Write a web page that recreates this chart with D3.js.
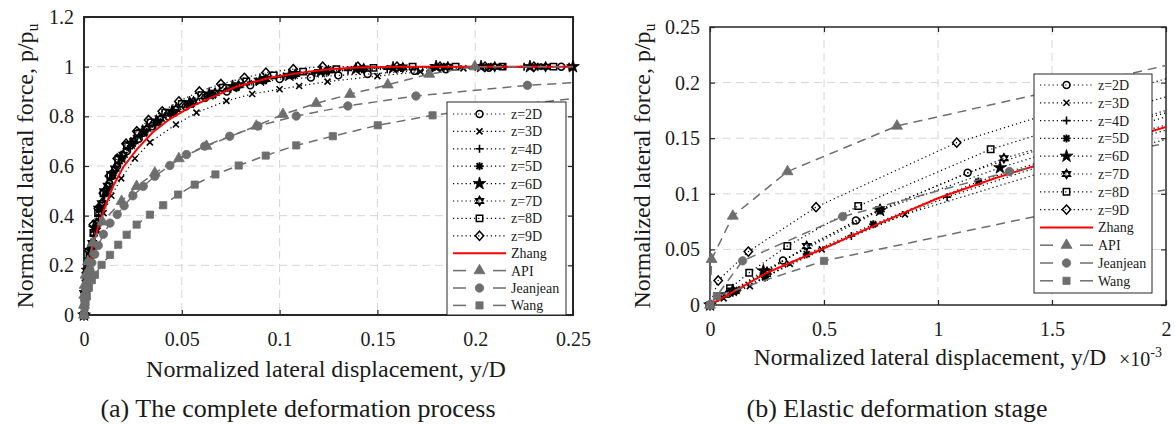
<!DOCTYPE html>
<html><head><meta charset="utf-8">
<script src="https://cdn.jsdelivr.net/npm/d3@7"></script>
<style>
body{margin:0;background:#fff}
svg{display:block}
text{font-family:"Liberation Serif","Times New Roman",serif}
</style>
</head><body>
<svg id="chart" width="1175" height="424"></svg>
<script>
// ---------------- categories / tick labels ----------------
const legendLabels = ["z=2D","z=3D","z=4D","z=5D","z=6D","z=7D","z=8D","z=9D","Zhang","API","Jeanjean","Wang"];
const aXTicks = [0,0.05,0.1,0.15,0.2,0.25];
const aXTickLabels = ["0","0.05","0.1","0.15","0.2","0.25"];
const aYTicks = [0,0.2,0.4,0.6,0.8,1,1.2];
const aYTickLabels = ["0","0.2","0.4","0.6","0.8","1","1.2"];
const bXTicks = [0,0.5,1,1.5,2];
const bXTickLabels = ["0","0.5","1","1.5","2"];
const bYTicks = [0,0.05,0.1,0.15,0.2,0.25];
const bYTickLabels = ["0","0.05","0.1","0.15","0.2","0.25"];

// ---------------- panel (a): complete deformation ----------------
const a_z2D_x = [0,0.0008,0.002,0.004,0.0065,0.0095,0.013,0.017,0.022,0.028,0.035,0.043,0.052,0.062,0.073,0.085,0.1,0.116,0.13,0.145,0.169,0.185,0.207,0.244];
const a_z2D_y = [0,0.10,0.18,0.28,0.37,0.45,0.53,0.60,0.66,0.71,0.76,0.80,0.84,0.875,0.90,0.925,0.95,0.956,0.965,0.97,0.983,0.99,0.996,1.0];
const a_z3D_x = [0,0.001,0.0025,0.0045,0.007,0.01,0.014,0.019,0.026,0.0337,0.047,0.0575,0.0728,0.086,0.1,0.11,0.1245,0.15,0.172,0.194,0.214,0.235];
const a_z3D_y = [0,0.10,0.18,0.26,0.34,0.41,0.48,0.55,0.63,0.695,0.767,0.815,0.862,0.89,0.909,0.922,0.94,0.962,0.98,0.993,1.0,1.0];
const a_z4D_x = [0,0.0006,0.0015,0.003,0.005,0.0075,0.0105,0.014,0.018,0.023,0.029,0.036,0.044,0.053,0.063,0.075,0.088,0.102,0.118,0.135,0.155,0.178,0.2,0.225,0.248];
const a_z4D_y = [0,0.07,0.14,0.23,0.32,0.40,0.48,0.55,0.61,0.67,0.72,0.765,0.805,0.845,0.88,0.91,0.94,0.96,0.975,0.985,0.99,0.995,1.0,1.0,1.0];
const a_z5D_x = [0,0.0009,0.0022,0.0038,0.006,0.0085,0.0115,0.015,0.0195,0.025,0.031,0.038,0.046,0.055,0.066,0.078,0.092,0.107,0.124,0.142,0.162,0.184,0.208,0.232];
const a_z5D_y = [0,0.10,0.19,0.27,0.35,0.43,0.50,0.57,0.63,0.69,0.735,0.775,0.815,0.85,0.885,0.915,0.945,0.965,0.98,0.99,0.995,1.0,1.0,1.0];
const a_z6D_x = [0,0.0007,0.0018,0.0033,0.0055,0.008,0.011,0.0145,0.019,0.024,0.03,0.037,0.045,0.054,0.064,0.076,0.09,0.105,0.121,0.139,0.158,0.18,0.203,0.228,0.25];
const a_z6D_y = [0,0.09,0.18,0.26,0.35,0.43,0.50,0.57,0.635,0.69,0.74,0.78,0.82,0.855,0.89,0.92,0.945,0.965,0.98,0.99,0.995,1.0,1.0,1.0,1.0];
const a_z7D_x = [0,0.0012,0.0026,0.0042,0.0065,0.009,0.012,0.0158,0.02,0.0255,0.032,0.039,0.047,0.056,0.067,0.079,0.093,0.108,0.125,0.143,0.163,0.186,0.21,0.236];
const a_z7D_y = [0,0.13,0.22,0.29,0.37,0.45,0.52,0.59,0.645,0.70,0.75,0.79,0.83,0.86,0.895,0.925,0.95,0.97,0.985,0.993,0.997,1.0,1.0,1.0];
const a_z8D_x = [0,0.0004,0.0013,0.0028,0.0048,0.0072,0.01,0.0135,0.0175,0.022,0.0275,0.034,0.0415,0.05,0.06,0.071,0.083,0.097,0.112,0.129,0.148,0.168,0.19,0.214,0.24];
const a_z8D_y = [0,0.06,0.14,0.24,0.33,0.41,0.49,0.56,0.625,0.68,0.73,0.775,0.815,0.85,0.885,0.915,0.94,0.965,0.98,0.99,0.995,1.0,1.0,1.0,1.0];
const a_z9D_x = [0,0.0005,0.0012,0.0025,0.0048,0.0073,0.0099,0.013,0.017,0.0215,0.027,0.033,0.04,0.0485,0.059,0.07,0.082,0.093,0.107,0.122,0.14,0.16,0.182,0.205,0.23];
const a_z9D_y = [0,0.09,0.17,0.26,0.364,0.43,0.49,0.56,0.63,0.69,0.74,0.785,0.82,0.86,0.90,0.93,0.955,0.976,0.99,1.0,1.0,1.0,1.0,1.0,1.0];
const a_zhang_x = [0,0.0005,0.001,0.002,0.004,0.0073,0.01,0.015,0.02,0.027,0.035,0.044,0.055,0.065,0.078,0.095,0.11,0.125,0.14,0.16,0.25];
const a_zhang_y = [0,0.05,0.095,0.16,0.26,0.357,0.42,0.52,0.595,0.667,0.735,0.79,0.84,0.875,0.92,0.955,0.975,0.99,0.997,1.0,1.0];
const a_api_x = [0,0.00001,0.0001,0.00034,0.00082,0.002,0.0045,0.0095,0.0192,0.0269,0.0362,0.0485,0.0626,0.0881,0.1017,0.1187,0.136,0.1553,0.1765,0.1998,0.26];
const a_api_y = [0,0.04,0.08,0.12,0.161,0.215,0.29,0.375,0.458,0.518,0.572,0.63,0.68,0.761,0.808,0.852,0.889,0.927,0.97,1.0,1.0];
const a_jj_x = [0,0.0001,0.0003,0.0006,0.001,0.0015,0.0022,0.003,0.004,0.0055,0.0073,0.0099,0.0133,0.017,0.0205,0.025,0.0303,0.0362,0.0439,0.0524,0.0617,0.0745,0.0889,0.1085,0.1349,0.1697,0.2267,0.26];
const a_jj_y = [0,0.035,0.06,0.08,0.105,0.13,0.155,0.18,0.21,0.245,0.28,0.325,0.37,0.405,0.44,0.48,0.518,0.559,0.602,0.646,0.68,0.72,0.761,0.801,0.842,0.882,0.925,0.94];
const a_wang_x = [0,0.0003,0.0008,0.0015,0.0025,0.004,0.0056,0.009,0.0133,0.0175,0.0218,0.0269,0.0337,0.0405,0.0481,0.0566,0.0672,0.0791,0.0929,0.1085,0.1272,0.1502,0.1782,0.2135,0.26];
const a_wang_y = [0,0.03,0.05,0.075,0.11,0.14,0.162,0.202,0.242,0.283,0.323,0.364,0.404,0.442,0.485,0.525,0.566,0.602,0.642,0.683,0.72,0.764,0.804,0.84,0.88];

// ---------------- panel (b): elastic stage (x in 1e-3) ----------------
const b_z2D_x = [0,0.08,0.32,0.64,1.13,1.75,2.5];
const b_z2D_y = [0,0.010,0.040,0.076,0.119,0.160,0.205];
const b_z3D_x = [0,0.06,0.175,0.35,0.49,0.855,1.6,2.5];
const b_z3D_y = [0,0.006,0.017,0.037,0.050,0.0815,0.128,0.175];
const b_z4D_x = [0,0.1,0.25,0.62,1.04,1.6,2.5];
const b_z4D_y = [0,0.011,0.026,0.062,0.097,0.135,0.185];
const b_z5D_x = [0,0.117,0.241,0.424,0.716,1.177,1.7,2.5];
const b_z5D_y = [0,0.0128,0.0248,0.0457,0.0726,0.111,0.145,0.19];
const b_z6D_x = [0,0.1,0.234,0.746,1.272,1.8,2.5];
const b_z6D_y = [0,0.013,0.0307,0.085,0.1234,0.157,0.2];
const b_z7D_x = [0,0.1,0.25,0.424,0.746,1.289,1.8,2.5];
const b_z7D_y = [0,0.013,0.03,0.053,0.086,0.132,0.162,0.2];
const b_z8D_x = [0,0.044,0.088,0.172,0.339,0.65,1.231,1.8,2.5];
const b_z8D_y = [0,0.008,0.015,0.029,0.053,0.089,0.14,0.176,0.215];
const b_z9D_x = [0,0.036,0.168,0.465,1.082,1.8,2.5];
const b_z9D_y = [0,0.022,0.048,0.088,0.146,0.192,0.232];
const b_zhang_x = [0,0.25,0.5,0.75,1.0,1.25,1.5,1.75,2.0];
const b_zhang_y = [0,0.029,0.051,0.074,0.096,0.114,0.13,0.145,0.16];
const b_api_x = [0,0.007,0.1,0.34,0.82,2.6];
const b_api_y = [0,0.041,0.08,0.12,0.161,0.243];
const b_jj_x = [0,0.143,0.582,1.313,2.4];
const b_jj_y = [0,0.0397,0.0795,0.12,0.16];
const b_wang_x = [0,0.03,0.5,1.9,2.6];
const b_wang_y = [0,0.008,0.0397,0.1,0.125];

// ---------------- build tables ----------------
const zip = (xs, ys) => xs.map((x, i) => ({x, y: ys[i]}));
const panelASeries = [
  zip(a_z2D_x,a_z2D_y), zip(a_z3D_x,a_z3D_y), zip(a_z4D_x,a_z4D_y), zip(a_z5D_x,a_z5D_y),
  zip(a_z6D_x,a_z6D_y), zip(a_z7D_x,a_z7D_y), zip(a_z8D_x,a_z8D_y), zip(a_z9D_x,a_z9D_y),
  zip(a_zhang_x,a_zhang_y), zip(a_api_x,a_api_y), zip(a_jj_x,a_jj_y), zip(a_wang_x,a_wang_y)];
const panelBSeries = [
  zip(b_z2D_x,b_z2D_y), zip(b_z3D_x,b_z3D_y), zip(b_z4D_x,b_z4D_y), zip(b_z5D_x,b_z5D_y),
  zip(b_z6D_x,b_z6D_y), zip(b_z7D_x,b_z7D_y), zip(b_z8D_x,b_z8D_y), zip(b_z9D_x,b_z9D_y),
  zip(b_zhang_x,b_zhang_y), zip(b_api_x,b_api_y), zip(b_jj_x,b_jj_y), zip(b_wang_x,b_wang_y)];

// ---------------- styles ----------------
const GRAY = "#6e6e6e", AXC = "#262626";
const seriesStyle = [
  {line:"dot", marker:"circle"}, {line:"dot", marker:"cross"}, {line:"dot", marker:"plus"},
  {line:"dot", marker:"asterisk"}, {line:"dot", marker:"star"}, {line:"dot", marker:"hexagram"},
  {line:"dot", marker:"square"}, {line:"dot", marker:"diamond"},
  {line:"red", marker:null}, {line:"dash", marker:"gtri"}, {line:"dash", marker:"gcirc"}, {line:"dash", marker:"gsq"}];

const markerDefs = {
  circle:   {d: d3.symbol(d3.symbolCircle, 38)(), fill:"none", stroke:"#000", sw:1.5},
  cross:    {d: "M-3,-3L3,3M-3,3L3,-3", fill:"none", stroke:"#000", sw:1.6},
  plus:     {d: "M-4,0H4M0,-4V4", fill:"none", stroke:"#000", sw:1.6},
  asterisk: {d: "M-4,0H4M0,-4V4M-3,-3L3,3M-3,3L3,-3", fill:"none", stroke:"#000", sw:1.9},
  star:     {d: d3.symbol(d3.symbolStar, 50)(), fill:"#000", stroke:"#000", sw:0.8},
  hexagram: {d: "M0,-4.6L4,2.3L-4,2.3ZM0,4.6L4,-2.3L-4,-2.3Z", fill:"none", stroke:"#000", sw:1.4},
  square:   {d: "M-3.2,-3.2H3.2V3.2H-3.2Z", fill:"none", stroke:"#000", sw:1.5},
  diamond:  {d: "M0,-4.6L4.2,0L0,4.6L-4.2,0Z", fill:"none", stroke:"#000", sw:1.5},
  gtri:     {d: d3.symbol(d3.symbolTriangle, 52)(), fill:GRAY, stroke:GRAY, sw:0.8},
  gcirc:    {d: d3.symbol(d3.symbolCircle, 56)(), fill:GRAY, stroke:GRAY, sw:0.8},
  gsq:      {d: "M-3.6,-3.6H3.6V3.6H-3.6Z", fill:GRAY, stroke:GRAY, sw:0.8}
};
function styleLine(sel, kind) {
  if (kind === "dot") sel.attr("stroke","#000").attr("stroke-width",1.2).attr("stroke-dasharray","1.2,3");
  else if (kind === "red") sel.attr("stroke","#ff0000").attr("stroke-width",2);
  else sel.attr("stroke",GRAY).attr("stroke-width",1.5).attr("stroke-dasharray","9,6");
  return sel.attr("fill","none");
}
function addMarker(g, type, cx, cy) {
  const m = markerDefs[type];
  g.append("path").attr("d", m.d).attr("transform", `translate(${cx},${cy})`)
    .attr("fill", m.fill).attr("stroke", m.stroke).attr("stroke-width", m.sw);
}

const svg = d3.select("#chart");
const FONT = '"Liberation Serif","Times New Roman",serif';

function drawPanel(p) {
  const g = svg.append("g");
  const x = d3.scaleLinear().domain(p.xDomain).range([p.left, p.right]);
  const y = d3.scaleLinear().domain(p.yDomain).range([p.bottom, p.top]);

  // grid
  g.append("g").selectAll("line").data(p.xTicks.slice(1, -1)).join("line")
    .attr("x1", d => x(d)).attr("x2", d => x(d)).attr("y1", p.top).attr("y2", p.bottom)
    .attr("stroke", "#d6d6d6").attr("stroke-width", 1).attr("stroke-dasharray", "8,5");
  g.append("g").selectAll("line").data(p.yTicks.slice(1, -1)).join("line")
    .attr("y1", d => y(d)).attr("y2", d => y(d)).attr("x1", p.left).attr("x2", p.right)
    .attr("stroke", "#d6d6d6").attr("stroke-width", 1).attr("stroke-dasharray", "8,5");

  // axes
  const styleAxis = sel => {
    sel.attr("font-family", FONT).attr("font-size", 20);
    sel.select(".domain").remove();
    sel.selectAll(".tick line").attr("stroke", AXC).attr("stroke-width", 1.2);
    sel.selectAll(".tick text").attr("fill", "#1a1a1a");
  };
  g.append("g").attr("transform", `translate(0,${p.bottom})`)
    .call(d3.axisBottom(x).tickValues(p.xTicks).tickFormat((d, i) => p.xTickLabels[i])
      .tickSizeInner(-5).tickSizeOuter(0).tickPadding(17)).call(styleAxis);
  g.append("g").attr("transform", `translate(0,${p.top})`)
    .call(d3.axisTop(x).tickValues(p.xTicks).tickFormat("").tickSizeInner(-5).tickSizeOuter(0)).call(styleAxis);
  g.append("g").attr("transform", `translate(${p.left},0)`)
    .call(d3.axisLeft(y).tickValues(p.yTicks).tickFormat((d, i) => p.yTickLabels[i])
      .tickSizeInner(-5).tickSizeOuter(0).tickPadding(10)).call(styleAxis);
  g.append("g").attr("transform", `translate(${p.right},0)`)
    .call(d3.axisRight(y).tickValues(p.yTicks).tickFormat("").tickSizeInner(-5).tickSizeOuter(0)).call(styleAxis);

  // box
  g.append("rect").attr("x", p.left).attr("y", p.top).attr("width", p.right - p.left)
    .attr("height", p.bottom - p.top).attr("fill", "none").attr("stroke", AXC).attr("stroke-width", p.boxW);

  // clip
  const cid = "clip" + p.id;
  svg.append("defs").append("clipPath").attr("id", cid).append("rect")
    .attr("x", p.left).attr("y", p.top).attr("width", p.right - p.left).attr("height", p.bottom - p.top);

  const line = d3.line().x(d => x(d.x)).y(d => y(d.y));
  p.series.forEach((pts, i) => {
    const st = seriesStyle[i];
    const sg = g.append("g");
    styleLine(sg.append("path").attr("d", line(pts)).attr("clip-path", `url(#${cid})`), st.line);
    if (st.marker) {
      pts.filter(d => d.x >= p.xDomain[0] && d.x <= p.xDomain[1] && d.y <= p.yDomain[1])
        .forEach(d => addMarker(sg, st.marker, x(d.x), y(d.y)));
    }
  });

  // legend
  const lg = g.append("g").attr("transform", `translate(${p.legX},${p.legY})`);
  lg.append("rect").attr("width", p.legW).attr("height", p.legH).attr("fill", "#fff")
    .attr("stroke", AXC).attr("stroke-width", 1);
  legendLabels.forEach((lab, i) => {
    const cy = p.legRow0 + i * p.legRowH;
    const st = seriesStyle[i];
    if (st.line === "dash") {
      styleLine(lg.append("line").attr("x1", 6).attr("x2", 19).attr("y1", cy).attr("y2", cy), "red")
        .attr("stroke", GRAY).attr("stroke-width", 1.5);
      styleLine(lg.append("line").attr("x1", 46).attr("x2", 59).attr("y1", cy).attr("y2", cy), "red")
        .attr("stroke", GRAY).attr("stroke-width", 1.5);
    } else {
      styleLine(lg.append("line").attr("x1", 6).attr("x2", 59).attr("y1", cy).attr("y2", cy), st.line);
    }
    if (st.marker) addMarker(lg, st.marker, 32.5, cy);
    lg.append("text").attr("x", 64).attr("y", cy + 5).attr("font-size", 14).attr("fill", "#1a1a1a").text(lab);
  });
}

drawPanel({
  id: "A", left: 84, right: 573, top: 17, bottom: 315, boxW: 2,
  xDomain: [0, 0.25], yDomain: [0, 1.2],
  xTicks: aXTicks, xTickLabels: aXTickLabels, yTicks: aYTicks, yTickLabels: aYTickLabels,
  series: panelASeries,
  legX: 447, legY: 102, legW: 119, legH: 213, legRow0: 12, legRowH: 17.4
});
drawPanel({
  id: "B", left: 710, right: 1166, top: 27, bottom: 305, boxW: 1.5,
  xDomain: [0, 2], yDomain: [0, 0.25],
  xTicks: bXTicks, xTickLabels: bXTickLabels, yTicks: bYTicks, yTickLabels: bYTickLabels,
  series: panelBSeries,
  legX: 1034, legY: 74, legW: 118, legH: 219, legRow0: 11, legRowH: 17.8
});

// axis labels and titles
const T = svg.append("g").attr("font-family", FONT).attr("fill", "#1a1a1a");
T.append("text").attr("x", 326).attr("y", 377).attr("text-anchor", "middle").attr("font-size", 24)
  .text("Normalized lateral displacement, y/D");
T.append("text").attr("x", 930).attr("y", 365).attr("text-anchor", "middle").attr("font-size", 23.5)
  .text("Normalized lateral displacement, y/D");
const ex = T.append("text").attr("x", 1119).attr("y", 366).attr("font-size", 20);
ex.append("tspan").text("×10");
ex.append("tspan").attr("dy", -9).attr("font-size", 14).text("-3");

function ylab(xp) {
  const t = T.append("text").attr("transform", `translate(${xp},166) rotate(-90)`)
    .attr("text-anchor", "middle").attr("font-size", 24);
  t.append("tspan").text("Normalized lateral force, p/p");
  t.append("tspan").attr("dy", 5).attr("font-size", 16).text("u");
}
ylab(33);
ylab(650);

T.append("text").attr("x", 298).attr("y", 417).attr("text-anchor", "middle").attr("font-size", 26)
  .text("(a) The complete deformation process");
T.append("text").attr("x", 897).attr("y", 417).attr("text-anchor", "middle").attr("font-size", 26)
  .text("(b) Elastic deformation stage");
</script>
</body></html>
